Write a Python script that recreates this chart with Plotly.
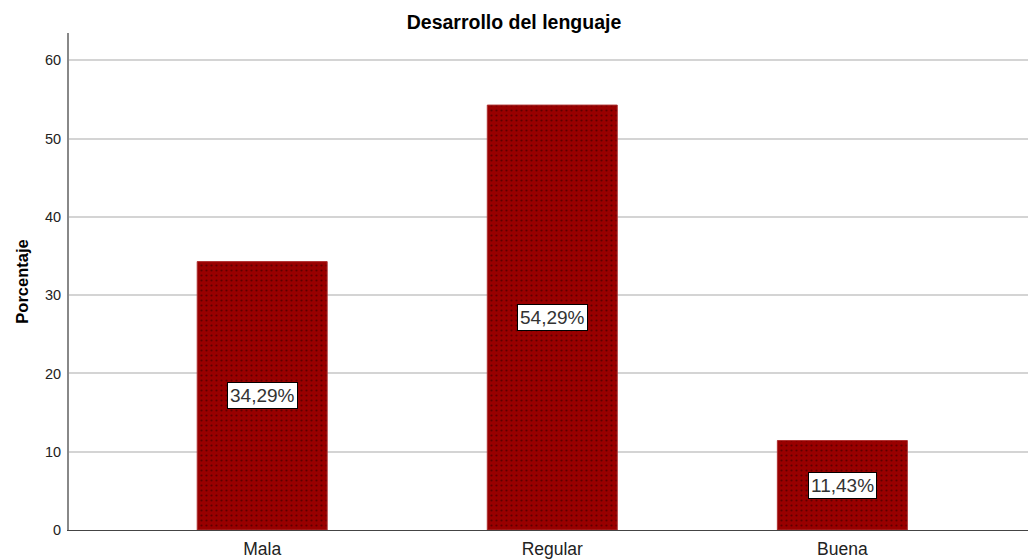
import plotly.graph_objects as go

categories = ["Mala", "Regular", "Buena"]
values = [34.29, 54.29, 11.43]
labels = ["34,29%", "54,29%", "11,43%"]
y_ticks = [0, 10, 20, 30, 40, 50, 60]

FONT = "Liberation Sans, Arial, sans-serif"

fig = go.Figure()
fig.add_trace(go.Bar(
    x=categories, y=values, width=0.448,
    marker=dict(color="#990000",
                line=dict(color="#b03030", width=1),
                pattern=dict(shape=".", fgcolor="#220000", size=5, solidity=0.15, bgcolor="#990000")),
    hoverinfo="skip",
))
for c, v, t in zip(categories, values, labels):
    fig.add_annotation(x=c, y=v / 2, text=t, showarrow=False,
                       font=dict(family=FONT, size=19, color="#333333"),
                       bgcolor="white", bordercolor="black", borderwidth=1, borderpad=2)

fig.update_layout(
    width=1028, height=560,
    margin=dict(l=69, r=0, t=33, b=30, autoexpand=False),
    plot_bgcolor="white", paper_bgcolor="white",
    showlegend=False,
    title=dict(text="<b>Desarrollo del lenguaje</b>", x=0.5, xanchor="center",
               y=1 - 22 / 560, yanchor="middle",
               font=dict(family=FONT, size=19.5, color="black")),
    font=dict(family=FONT, color="black"),
)
fig.update_xaxes(range=[-0.666, 2.64], showgrid=False, showline=True, linecolor="#444444",
                 linewidth=1, ticks="", ticklabelstandoff=3,
                 tickfont=dict(family=FONT, size=17.5, color="#222222"))
fig.update_yaxes(range=[0, 63.5], tickvals=y_ticks, showgrid=True, gridcolor="#d4d4d4",
                 gridwidth=1.5, showline=True, linecolor="#888888", linewidth=2,
                 ticks="", ticklabelstandoff=3, automargin=False,
                 tickfont=dict(family=FONT, size=14.5, color="#222222"), zeroline=False,
                 title=dict(text="<b>Porcentaje</b>", font=dict(family=FONT, size=16.5, color="black"),
                            standoff=12))

fig.write_html("out.html", config={"displayModeBar": False},
               post_script="document.body.style.margin='0';")
